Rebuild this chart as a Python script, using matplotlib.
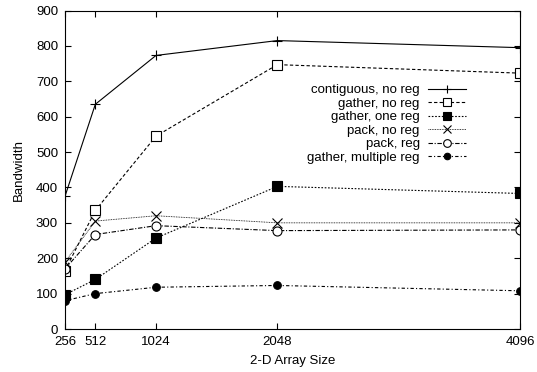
import matplotlib
matplotlib.use("Agg")
import matplotlib.pyplot as plt

plt.rcParams['font.family'] = ['Liberation Sans', 'DejaVu Sans']
plt.rcParams['font.size'] = 9.5

sizes = [256, 512, 1024, 2048, 4096]
contiguous_no_reg = [375, 635, 773, 815, 795]
gather_no_reg = [165, 335, 545, 747, 723]
gather_one_reg = [97, 140, 257, 403, 383]
pack_no_reg = [190, 305, 320, 300, 300]
pack_reg = [170, 267, 292, 278, 280]
gather_multiple_reg = [80, 100, 118, 123, 108]

W, H = 537, 372
fig = plt.figure(figsize=(W / 100, H / 100), dpi=100)
ax = fig.add_axes([65 / W, 1 - 329 / H, 455 / W, 318.5 / H])

lw = 0.8
ax.plot(sizes, contiguous_no_reg, color='black', lw=lw, ls='-',
        marker='+', ms=7.5, mew=0.8, label='contiguous, no reg')
ax.plot(sizes, gather_no_reg, color='black', lw=lw, ls=(0, (3, 2)),
        marker='s', ms=6.5, mfc='white', mew=0.8, label='gather, no reg')
ax.plot(sizes, gather_one_reg, color='black', lw=lw, ls=(0, (1.5, 1.5)),
        marker='s', ms=6.5, mew=0.8, label='gather, one reg')
ax.plot(sizes, pack_no_reg, color='black', lw=0.6, ls=(0, (1, 1)),
        marker='x', ms=6.5, mew=0.8, label='pack, no reg')
ax.plot(sizes, pack_reg, color='black', lw=lw, ls=(0, (4, 1.5, 1, 1.5)),
        marker='o', ms=6.5, mfc='white', mew=0.8, label='pack, reg')
ax.plot(sizes, gather_multiple_reg, color='black', lw=lw, ls=(0, (3, 2, 1, 2)),
        marker='o', ms=5.5, mew=0.8, label='gather, multiple reg')

ax.set_xlim(256, 4096)
ax.set_ylim(0, 900)
ax.set_xticks(sizes)
ax.set_yticks(range(0, 901, 100))
ax.tick_params(direction='in', top=True, right=True, length=4.5, width=0.8, pad=5)
for s in ax.spines.values():
    s.set_linewidth(0.8)

ax.set_xlabel('2-D Array Size', labelpad=5)
ax.set_ylabel('Bandwidth', labelpad=8)

ax.legend(loc='upper right', bbox_to_anchor=(466 / W, 1 - 84 / H),
          bbox_transform=fig.transFigure, frameon=False,
          markerfirst=False, handlelength=2.9, handletextpad=0.6,
          labelspacing=0.1, borderaxespad=0, borderpad=0, markerscale=0.85)

fig.savefig('out.png', dpi=100)
